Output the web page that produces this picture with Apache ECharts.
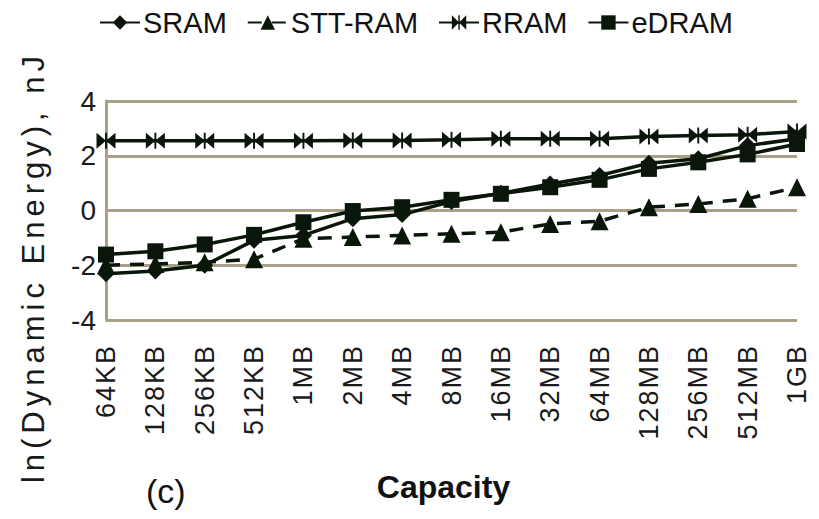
<!DOCTYPE html>
<html>
<head>
<meta charset="utf-8">
<script src="https://cdn.jsdelivr.net/npm/echarts@6/dist/echarts.min.js"></script>
<style>
  html, body { margin: 0; padding: 0; background: #fff; }
  #chart { width: 819px; height: 519px; }
  /* wide tracking for the axis texts */
  #chart text[style*="31px"] { letter-spacing: 5px; }
  #chart text[style*="27px"] { letter-spacing: 2px; }
</style>
</head>
<body>
<div id="chart"></div>
<script>
// Memory capacities on the horizontal axis
const capacities = ['64KB', '128KB', '256KB', '512KB', '1MB', '2MB', '4MB', '8MB',
  '16MB', '32MB', '64MB', '128MB', '256MB', '512MB', '1GB'];

// ln(dynamic energy) per access, nJ
const sram   = [-2.31, -2.21, -2.00, -1.09, -0.91, -0.30, -0.15, 0.33, 0.63, 0.97, 1.28, 1.73, 1.89, 2.37, 2.62];
const sttRam = [-2.00, -1.95, -1.89, -1.78, -1.03, -0.97, -0.91, -0.85, -0.79, -0.49, -0.39, 0.12, 0.24, 0.43, 0.85];
const rram   = [2.55, 2.55, 2.55, 2.55, 2.55, 2.56, 2.56, 2.58, 2.62, 2.62, 2.62, 2.70, 2.74, 2.77, 2.89];
const edram  = [-1.61, -1.49, -1.24, -0.89, -0.43, -0.02, 0.12, 0.39, 0.61, 0.85, 1.12, 1.52, 1.76, 2.05, 2.43];

const yTicks = [-4, -2, 0, 2, 4];

const INK = '#0b160b';
const GRID = '#a9a088';
const FONT = '"Liberation Sans", Arial, sans-serif';

// bow-tie marker: two triangles meeting at the centre
const bowTie = 'path://M0,0 L10,6 L0,12 Z M20,0 L10,6 L20,12 Z M9,0 L11,0 L11,12 L9,12 Z';

function makeSeries(name, data, symbol, size, dashed) {
  return {
    name: name,
    type: 'line',
    data: data,
    symbol: symbol,
    symbolSize: size,
    showAllSymbol: true,
    lineStyle: { color: INK, width: 3.5, type: dashed ? [14, 10] : 'solid' },
    itemStyle: { color: INK, borderWidth: 0 },
    emphasis: { disabled: true },
    animation: false
  };
}

const chart = echarts.init(document.getElementById('chart'), null, { renderer: 'svg' });
chart.setOption({
  backgroundColor: '#ffffff',
  animation: false,
  textStyle: { fontFamily: FONT },
  legend: {
    top: 3,
    left: 94,
    itemWidth: 40,
    itemHeight: 18,
    itemGap: 20,
    textStyle: { fontSize: 29, color: '#111', fontFamily: FONT, padding: [0, 0, 0, -2] },
    data: ['SRAM', 'STT-RAM', 'RRAM', 'eDRAM']
  },
  grid: { left: 106, right: 22, top: 101, bottom: 199, containLabel: false },
  xAxis: {
    type: 'category',
    data: capacities,
    boundaryGap: false,
    name: 'Capacity',
    nameLocation: 'middle',
    nameGap: 151,
    nameTextStyle: { fontSize: 32, fontWeight: 'bold', color: '#111', fontFamily: FONT, padding: [0, 16, 0, 0] },
    axisLine: { show: false },
    axisTick: { show: false },
    axisLabel: {
      rotate: 90,
      interval: 0,
      margin: 24,
      fontSize: 27,
      color: '#1a1a1a',
      fontFamily: FONT
    },
    splitLine: { show: false }
  },
  yAxis: {
    type: 'value',
    min: yTicks[0],
    max: yTicks[yTicks.length - 1],
    interval: 2,
    axisLine: { show: true, lineStyle: { color: GRID, width: 3 } },
    axisTick: { show: false },
    axisLabel: { fontSize: 28, color: '#1a1a1a', margin: 10, fontFamily: FONT },
    splitLine: { show: true, lineStyle: { color: GRID, width: 3 } }
  },
  graphic: [{
    type: 'text',
    x: 33,
    y: 267,
    rotation: Math.PI / 2,
    style: {
      text: 'ln(Dynamic Energy), nJ',
      font: '31px ' + FONT,
      fill: '#1a1a1a',
      align: 'center',
      verticalAlign: 'middle'
    }
  }, {
    type: 'text',
    left: 146,
    top: 474,
    style: { text: '(c)', font: '34px ' + FONT, fill: '#111' }
  }],
  series: [
    makeSeries('SRAM', sram, 'diamond', 17, false),
    makeSeries('STT-RAM', sttRam, 'triangle', 18, true),
    makeSeries('RRAM', rram, bowTie, [19, 16], false),
    makeSeries('eDRAM', edram, 'rect', 16, false)
  ]
});
</script>
</body>
</html>
